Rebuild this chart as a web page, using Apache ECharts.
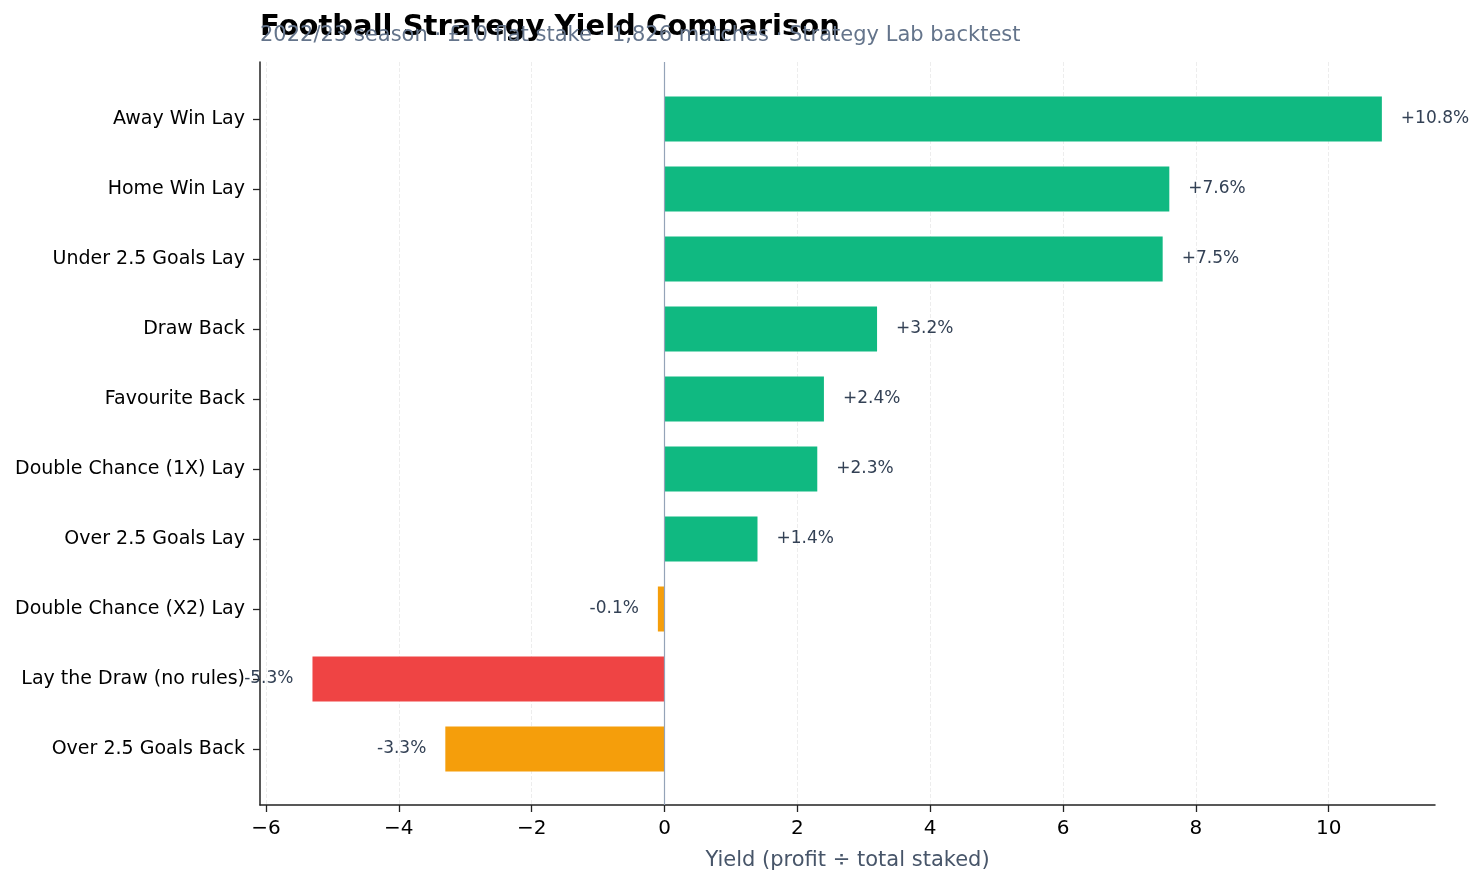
<!DOCTYPE html>
<html>
<head>
<meta charset="utf-8">
<script src="https://cdn.jsdelivr.net/npm/echarts@6/dist/echarts.min.js"></script>
<style>
  html, body { margin: 0; padding: 0; background: #fff; }
  #chart { width: 1484px; height: 885px; }
</style>
</head>
<body>
<div id="chart"></div>
<script>
const strategies = [
  'Away Win Lay', 'Home Win Lay', 'Under 2.5 Goals Lay', 'Draw Back', 'Favourite Back',
  'Double Chance (1X) Lay', 'Over 2.5 Goals Lay', 'Double Chance (X2) Lay',
  'Lay the Draw (no rules)', 'Over 2.5 Goals Back'
]
const yields = [10.8, 7.6, 7.5, 3.2, 2.4, 2.3, 1.4, -0.1, -5.3, -3.3]
const xTicks = [-6, -4, -2, 0, 2, 4, 6, 8, 10]

const GREEN = '#10b981'
const ORANGE = '#f59e0b'
const RED = '#ef4444'

const colorFor = (v) => {
  if (v >= 0) return GREEN
  if (v <= -5) return RED
  return ORANGE
}

const fontFamily = 'DejaVu Sans'
const xMin = -6.09
const xMax = 11.6

const chart = echarts.init(document.getElementById('chart'))

const barData = yields.map(v => ({
  value: v,
  itemStyle: { color: colorFor(v) },
  label: { position: v >= 0 ? 'right' : 'left' }
}))

const option = {
  animation: false,
  textStyle: { fontFamily },
  title: [
    {
      text: 'Football Strategy Yield Comparison',
      left: 260,
      top: 13,
      padding: 0,
      textStyle: { fontSize: 29, fontWeight: 'bold', color: '#000', fontFamily }
    },
    {
      text: '2022/23 season · £10 flat stake · 1,826 matches · Strategy Lab backtest',
      left: 260,
      top: 25,
      padding: 0,
      textStyle: { fontSize: 21, fontWeight: 'normal', color: '#64748b', fontFamily }
    }
  ],
  grid: [
    { left: 260, right: 49, top: 62, bottom: 80 },
    { left: 260, right: 49, top: 84, bottom: 101 }
  ],
  xAxis: [
    {
      type: 'value',
      gridIndex: 0,
      min: xMin,
      max: xMax,
      axisLine: { show: true, onZero: false, lineStyle: { color: '#222', width: 1.5 } },
      axisTick: { show: true, length: 7, customValues: xTicks, lineStyle: { color: '#222', width: 1.3 } },
      axisLabel: {
        customValues: xTicks,
        fontSize: 20,
        color: '#000',
        margin: 14,
        formatter: (v) => String(v).replace('-', '\u2212')
      },
      splitLine: { show: true, lineStyle: { color: '#ededed', type: 'dashed' } },
      name: 'Yield (profit ÷ total staked)',
      nameLocation: 'middle',
      nameGap: 45,
      nameTextStyle: { fontSize: 21, color: '#475569' }
    },
    {
      type: 'value',
      gridIndex: 1,
      min: xMin,
      max: xMax,
      show: false
    }
  ],
  yAxis: [
    {
      type: 'value',
      gridIndex: 0,
      min: 0,
      max: 1,
      axisLine: { show: true, onZero: false, lineStyle: { color: '#222', width: 1.5 } },
      axisTick: { show: false },
      axisLabel: { show: false },
      splitLine: { show: false }
    },
    {
      type: 'category',
      gridIndex: 1,
      inverse: true,
      data: strategies,
      axisLine: { show: false, onZero: false },
      axisTick: { show: true, length: 7, alignWithLabel: true, lineStyle: { color: '#222', width: 1.3 } },
      axisLabel: { fontSize: 19, color: '#000', margin: 15 },
      splitLine: { show: false }
    }
  ],
  series: [
    {
      type: 'line',
      xAxisIndex: 0,
      yAxisIndex: 0,
      data: [],
      markLine: {
        silent: true,
        symbol: 'none',
        label: { show: false },
        lineStyle: { color: '#94a3b8', type: 'solid', width: 1.2 },
        data: [{ xAxis: 0 }]
      }
    },
    {
      type: 'bar',
      xAxisIndex: 1,
      yAxisIndex: 1,
      barWidth: 45,
      data: barData,
      z: 3,
      label: {
        show: true,
        distance: 19,
        fontSize: 17,
        color: '#334155',
        formatter: (p) => (p.value > 0 ? '+' : '') + p.value.toFixed(1) + '%'
      }
    }
  ]
}

chart.setOption(option)
window.addEventListener('resize', () => chart.resize())
</script>
</body>
</html>
